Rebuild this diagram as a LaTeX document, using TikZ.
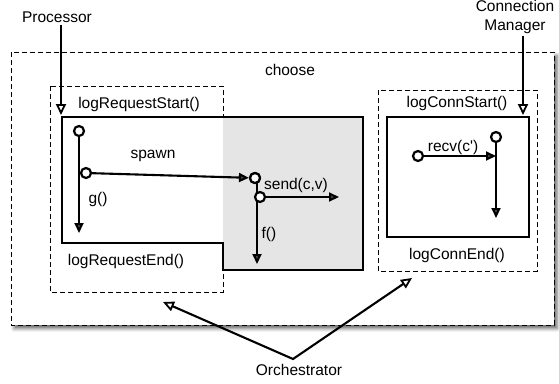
\documentclass[tikz,border=0pt]{standalone}
\usepackage{fontspec}
\setmainfont{Liberation Sans}
\usetikzlibrary{arrows.meta,shadows.blur}
\begin{document}
\begin{tikzpicture}[x=1pt,y=-1pt,
  lbl/.style={font=\fontsize{15.5}{18}\selectfont,inner sep=0pt},
  dashbox/.style={draw,line width=1pt,dash pattern=on 5pt off 3pt},
  procbox/.style={draw,line width=2.8pt,line join=miter},
  dot/.style={circle,draw,fill=white,line width=2.2pt,inner sep=0pt,minimum size=10pt},
  flow/.style={line width=2.1pt,-{Triangle[length=10pt,width=9pt]}},
  pointer/.style={line width=2.1pt,-{Triangle[open,length=11pt,width=10pt,line width=1.8pt]}},
  twopointer/.style={line width=2.1pt,{Triangle[open,length=11pt,width=10pt,line width=1.8pt]}-{Triangle[open,length=11pt,width=10pt,line width=1.8pt]}}
]
\useasboundingbox (0,0) rectangle (559,383);
% outer choose box with shadow
\filldraw[dashbox,fill=white,blur shadow={shadow xshift=3pt,shadow yshift=-3.5pt,shadow blur radius=3.5pt,shadow opacity=60}] (11,52) rectangle (554,325);
\node[lbl] (choose) at (290,70) {choose};
% left dashed box
\draw[dashbox] (50,86) rectangle (223,292);
% gray region
\fill[black!10] (223,117) rectangle (363,270);
% process polygon
\draw[procbox] (62,117) -- (363,117) -- (363,270) -- (223,270) -- (223,243) -- (62,243) -- cycle;
% right dashed box
\draw[dashbox] (378,90) rectangle (537,271);
\draw[procbox] (387,117) rectangle (529,237);
% labels
\node[lbl] (lrs) at (139,104) {logRequestStart()};
\node[lbl] (lre) at (126,261) {logRequestEnd()};
\node[lbl] (spawn) at (153,156) {spawn};
\node[lbl] (g) at (98,199) {g()};
\node[lbl] (send) at (296,185) {send(c,v)};
\node[lbl] (f) at (269,234) {f()};
\node[lbl] (lcs) at (457,103) {logConnStart()};
\node[lbl] (lce) at (457,255) {logConnEnd()};
\node[lbl] (recv) at (453,147) {recv(c\textquotesingle)};
% outside labels
\node[lbl] (proc) at (57,17) {Processor};
\node[lbl,align=center,font=\fontsize{15.5}{19}\selectfont] (cm) at (515,17) {Connection\\Manager};
\node[lbl] (orch) at (299,370) {Orchestrator};
% dots and flows
\coordinate (gend) at (79,233);
\coordinate (fend) at (257,264);
\coordinate (sendend) at (339,197);
\coordinate (recvend) at (496,156);
\coordinate (cend) at (496,218);
\draw[flow] (79,131) -- (gend);
\node[dot] (d1) at (79,131) {};
\node[dot] (d3) at (255,178) {};
\draw[flow] (86,173) -- (d3);
\node[dot] (d2) at (86,173) {};
\draw[flow] (257,180) -- (fend);
\node[dot] (d3b) at (255,178) {};
\draw[flow] (260,197) -- (sendend);
\node[dot] (d4) at (260,197) {};
\draw[flow] (418,156) -- (recvend);
\node[dot] (d5) at (418,156) {};
\draw[flow] (496,137) -- (cend);
\node[dot] (d6) at (496,137) {};
% pointers
\coordinate (ptip) at (61,115);
\coordinate (ctip) at (523,115);
\draw[pointer] (proc.south -| ptip) ++(0,2) -- (ptip);
\draw[pointer] (cm.south -| ctip) ++(0,2) -- (ctip);
\coordinate (ltip) at (163,302);
\coordinate (rtip) at (412,278);
\coordinate (j) at (293,359);
\draw[twopointer,line join=miter] (ltip) -- (j) -- (rtip);
\end{tikzpicture}
\end{document}
